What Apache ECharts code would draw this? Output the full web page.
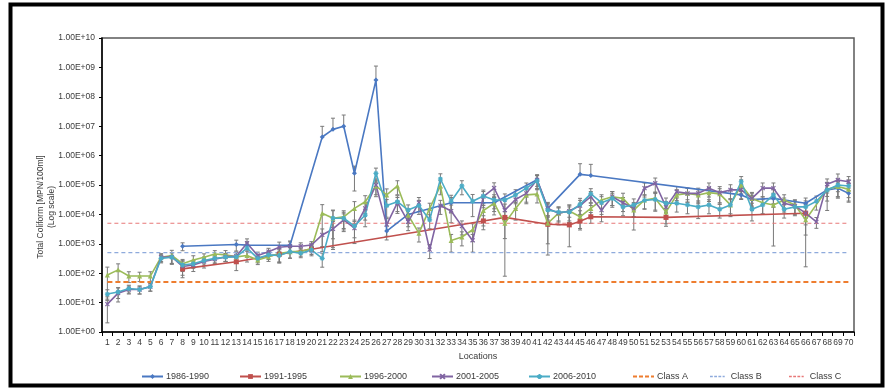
<!DOCTYPE html>
<html>
<head>
<meta charset="utf-8">
<script src="https://cdn.jsdelivr.net/npm/echarts@6/dist/echarts.min.js"></script>
<style>
  html, body { margin: 0; padding: 0; background: #fff; }
  #chart { width: 888px; height: 389px; }
</style>
</head>
<body>
<div id="chart"></div>
<script>
// Sampling locations along the river
const locations = [
  '1','2','3','4','5','6','7','8','9','10',
  '11','12','13','14','15','16','17','18','19','20',
  '21','22','23','24','25','26','27','28','29','30',
  '31','32','33','34','35','36','37','38','39','40',
  '41','42','43','44','45','46','47','48','49','50',
  '51','52','53','54','55','56','57','58','59','60',
  '61','62','63','64','65','66','67','68','69','70'
];

// Mean total coliform (MPN/100ml) per period; null = not sampled
const tc1986_1990 = [
  null,null,null,null,null,null,null,830,null,null,
  null,null,950,900,null,null,null,890,null,null,
  4.3e6,7.8e6,1.0e7,2.5e5,null,3.7e8,2700,null,10000,null,
  null,null,25000,null,null,null,25000,null,null,null,
  150000,16000,null,null,230000,210000,null,null,null,null,
  null,null,null,null,null,null,null,null,null,46000,
  32000,null,35000,null,null,24000,null,68000,78000,52000
];
const tc1991_1995 = [
  null,null,null,null,null,null,null,140,null,null,
  null,null,245,null,null,null,440,null,null,650,
  null,null,null,null,null,null,null,null,null,null,
  null,null,null,null,null,6000,null,7900,null,null,
  null,4600,null,4400,5900,8300,null,null,null,null,
  null,null,7900,null,null,null,null,null,null,null,
  null,null,null,null,null,11000,null,null,null,null
];
const tc1996_2000 = [
  87,130,80,80,80,350,400,210,280,350,
  450,420,360,400,280,360,470,540,540,710,
  11000,7400,8300,16000,27000,93000,46000,93000,9500,2300,
  16000,93000,1300,1700,3000,13500,24000,5000,16000,46000,
  49000,5000,11000,13000,8300,16000,31000,40000,35000,14000,
  31000,35000,12000,46000,52000,46000,55000,50000,21000,100000,
  35000,25000,21000,31000,21000,6600,null,71000,89000,71000
];
const tc2001_2005 = [
  8.9,21,28,28,35,350,360,170,190,250,
  300,360,380,1050,400,540,760,830,830,910,
  2000,3200,6500,3400,16000,100000,4500,25000,5600,25000,
  630,20000,13000,4000,1300,40000,79000,14000,32000,52000,
  150000,16000,11000,13000,20000,40000,14000,40000,25000,16000,
  78000,115000,18000,59000,52000,52000,78000,55000,68000,68000,
  35000,78000,78000,24000,19500,11000,5600,107000,148000,129000
];
const tc2006_2010 = [
  19.5,23,30,28,35,320,350,190,210,270,
  320,350,360,710,320,420,400,540,480,620,
  320,7400,7400,4000,9500,250000,20000,27000,14000,20000,
  6500,160000,28000,93000,28000,42000,31000,31000,46000,78000,
  138000,14000,12000,12000,22000,50000,25000,35000,18000,21000,
  30000,32000,24000,24000,21000,18000,21000,15000,21000,129000,
  15000,21000,46000,15000,18000,18000,28000,68000,100000,93000
];

// Relative standard deviation (SD / mean) of each mean, for the error bars
const rsd1986_1990 = [
  null,null,null,null,null,null,null,0.3,null,null,
  null,null,0.4,0.3,null,null,null,0.4,null,null,
  1.3,1.4,1.4,0.75,null,2.0,0.5,null,0.5,null,
  null,null,0.5,null,null,null,0.5,null,null,null,
  0.4,0.5,null,null,1.3,1.4,null,null,null,null,
  null,null,null,null,null,null,null,null,null,0.3,
  0.4,null,0.5,null,null,0.5,null,0.4,0.5,0.5
];
const rsd1991_1995 = [
  null,null,null,null,null,null,null,0.5,null,null,
  null,null,0.5,null,null,null,0.5,null,null,0.4,
  null,null,null,null,null,null,null,null,null,null,
  null,null,null,null,null,0.5,null,0.99,null,null,
  null,0.91,null,0.82,0.5,0.4,null,null,null,null,
  null,null,0.5,null,null,null,null,null,null,null,
  null,null,null,null,null,0.985,null,null,null,null
];
const rsd1996_2000 = [
  0.85,0.6,0.4,0.35,0.4,0.3,0.5,0.4,0.4,0.3,
  0.3,0.4,0.4,0.4,0.3,0.3,0.5,0.4,0.3,0.3,
  0.95,0.8,0.6,0.7,0.6,0.5,0.6,0.5,0.6,0.5,
  0.5,0.5,0.6,0.5,0.6,0.7,0.6,0.7,0.6,0.5,
  0.5,0.8,0.6,0.6,0.6,0.5,0.5,0.5,0.5,0.79,
  0.5,0.6,0.6,0.5,0.5,0.5,0.5,0.5,0.6,0.5,
  0.5,0.6,0.96,0.5,0.5,0.7,null,0.6,0.6,0.6
];
const rsd2001_2005 = [
  0.77,0.5,0.3,0.3,0.3,0.3,0.4,0.5,0.4,0.4,
  0.3,0.3,0.4,0.4,0.3,0.3,0.5,0.4,0.3,0.3,
  0.6,0.8,0.6,0.7,0.6,0.6,0.6,0.5,0.5,0.5,
  0.5,0.5,0.6,0.5,0.6,0.5,0.5,0.6,0.5,0.5,
  0.5,0.6,0.5,0.6,0.5,0.5,0.6,0.5,0.5,0.5,
  0.5,0.5,0.5,0.5,0.5,0.5,0.5,0.6,0.5,0.5,
  0.6,0.5,0.5,0.5,0.5,0.6,0.4,0.5,0.6,0.5
];
const rsd2006_2010 = [
  0.4,0.4,0.3,0.3,0.3,0.3,0.4,0.4,0.3,0.3,
  0.3,0.3,0.4,0.5,0.3,0.3,0.4,0.4,0.3,0.3,
  0.5,0.9,0.6,0.6,0.6,0.5,0.6,0.6,0.5,0.5,
  0.5,0.5,0.6,0.5,0.7,0.6,0.5,0.6,0.5,0.5,
  0.5,0.6,0.5,0.5,0.6,0.5,0.6,0.5,0.5,0.6,
  0.5,0.6,0.5,0.5,0.5,0.6,0.5,0.5,0.5,0.5,
  0.6,0.5,0.5,0.5,0.5,0.6,0.5,0.8,0.6,0.6
];

// Water quality class limits (MPN/100ml)
const classA = 50;
const classB = 500;
const classC = 5000;

const yTicks = [1, 10, 100, 1e3, 1e4, 1e5, 1e6, 1e7, 1e8, 1e9, 1e10];

const FONT = '"Liberation Sans Narrow", "Liberation Sans", Arial, sans-serif';
const TEXT = '#3a3a3a';

const periods = [
  { name: '1986-1990', values: tc1986_1990, rsd: rsd1986_1990, color: '#4a78c2', symbol: 'diamond', size: 5 },
  { name: '1991-1995', values: tc1991_1995, rsd: rsd1991_1995, color: '#c0504d', symbol: 'rect', size: 5 },
  { name: '1996-2000', values: tc1996_2000, rsd: rsd1996_2000, color: '#9bbb59', symbol: 'triangle', size: 5 },
  { name: '2001-2005', values: tc2001_2005, rsd: rsd2001_2005, color: '#8064a2', symbol: 'path://M0,0L10,10M10,0L0,10', size: 4, stroke: true },
  { name: '2006-2010', values: tc2006_2010, rsd: rsd2006_2010, color: '#4bacc6', symbol: 'path://M5,0L5,10M0,5L10,5M1.5,1.5L8.5,8.5M8.5,1.5L1.5,8.5', size: 5, stroke: true }
];

function errorBars(values, rsd) {
  const out = [];
  values.forEach((v, i) => {
    const r = rsd[i];
    if (v == null || r == null) return;
    const hi = v * (1 + r);
    const lo = r < 1 ? v * (1 - r) : v;
    out.push([i, lo, hi, r < 1 ? 1 : 0]);
  });
  return out;
}

function renderErrorBar(params, api) {
  const x = api.value(0);
  const top = api.coord([x, api.value(2)]);
  const bot = api.coord([x, api.value(1)]);
  const hw = 2;
  const style = { stroke: '#7a7a7a', lineWidth: 1 };
  const children = [
    { type: 'line', shape: { x1: top[0], y1: top[1], x2: bot[0], y2: bot[1] }, style },
    { type: 'line', shape: { x1: top[0] - hw, y1: top[1], x2: top[0] + hw, y2: top[1] }, style }
  ];
  if (api.value(3) === 1) {
    children.push({ type: 'line', shape: { x1: bot[0] - hw, y1: bot[1], x2: bot[0] + hw, y2: bot[1] }, style });
  }
  return { type: 'group', children };
}

const series = [];

periods.forEach(p => {
  series.push({
    name: p.name + ' SD',
    type: 'custom',
    renderItem: renderErrorBar,
    data: errorBars(p.values, p.rsd),
    encode: { x: 0, y: [1, 2] },
    silent: true,
    z: 1
  });
});

periods.forEach(p => {
  series.push({
    name: p.name,
    type: 'line',
    data: p.values,
    connectNulls: true,
    symbol: p.symbol,
    symbolSize: p.size,
    showAllSymbol: true,
    lineStyle: { color: p.color, width: 1.6 },
    itemStyle: p.stroke
      ? { color: p.color, borderColor: p.color, borderWidth: 1.2 }
      : { color: p.color, borderWidth: 0 },
    emphasis: { disabled: true },
    animation: false,
    z: 3
  });
});

const classes = [
  { name: 'Class A', limit: classA, color: '#ee7d2f', width: 2, dash: [5, 3] },
  { name: 'Class B', limit: classB, color: '#8eaadc', width: 1.2, dash: [4, 3] },
  { name: 'Class C', limit: classC, color: '#e87878', width: 1.2, dash: [4, 3] }
];
classes.forEach(c => {
  series.push({
    name: c.name,
    type: 'line',
    data: locations.map(() => c.limit),
    symbol: 'none',
    lineStyle: { color: c.color, width: c.width, type: c.dash },
    itemStyle: { color: c.color },
    emphasis: { disabled: true },
    animation: false,
    z: 2
  });
});

// Dashed icon used for the class-limit legend entries
const dashIcon = 'path://M0,0h4v2h-4zM6,0h4v2h-4zM12,0h4v2h-4zM18,0h3v2h-3z';

const legendLeft = [136, 234, 334, 426, 523, 628, 705, 784];
const legends = periods.map((p, i) => ({
  data: [p.name],
  left: legendLeft[i],
  top: 367,
  itemWidth: 21,
  itemHeight: 6,
  itemGap: 0,
  selectedMode: false,
  textStyle: { fontFamily: FONT, fontSize: 9, color: TEXT, padding: [0, 0, 0, -2] }
})).concat(classes.map((c, i) => ({
  data: [{ name: c.name, icon: dashIcon, itemStyle: { color: c.color } }],
  left: legendLeft[periods.length + i],
  top: 367,
  itemWidth: 21,
  itemHeight: c.width >= 2 ? 2 : 1.4,
  itemGap: 0,
  selectedMode: false,
  textStyle: { fontFamily: FONT, fontSize: 9, color: TEXT, padding: [0, 0, 0, -2] }
})));

const chart = echarts.init(document.getElementById('chart'), null, { renderer: 'canvas' });
chart.setOption({
  animation: false,
  backgroundColor: '#ffffff',
  grid: { left: 102, right: 34, top: 38, bottom: 57, show: true, borderColor: '#5a5a5a', borderWidth: 1.5, backgroundColor: 'transparent' },
  legend: legends,
  xAxis: {
    type: 'category',
    data: locations,
    boundaryGap: true,
    name: 'Locations',
    nameLocation: 'middle',
    nameGap: 20,
    nameTextStyle: { fontFamily: FONT, fontSize: 9, color: TEXT },
    axisLine: { lineStyle: { color: '#000', width: 1.5 } },
    axisTick: { show: true, length: 4, lineStyle: { color: '#000' }, interval: 0 },
    axisLabel: { interval: 0, fontFamily: FONT, fontSize: 8.5, color: TEXT, margin: 6 },
    splitLine: { show: false }
  },
  yAxis: {
    type: 'log',
    logBase: 10,
    min: yTicks[0],
    max: yTicks[yTicks.length - 1],
    interval: 1,
    axisLine: { show: true, lineStyle: { color: '#000', width: 1.5 } },
    axisTick: { show: true, length: 3, lineStyle: { color: '#000' } },
    axisLabel: {
      fontFamily: FONT, fontSize: 8.5, color: TEXT, margin: 7,
      formatter: v => {
        const e = Math.round(Math.log10(v));
        return '1.00E+' + String(e).padStart(2, '0');
      }
    },
    splitLine: { show: false }
  },
  graphic: [
    {
      type: 'rect',
      shape: { x: 10.5, y: 4.5, width: 872, height: 381 },
      style: { fill: 'none', stroke: '#000', lineWidth: 4 },
      z: 10
    },
    {
      type: 'text',
      x: 46,
      y: 207,
      rotation: Math.PI / 2,
      style: {
        text: 'Total Coliform [MPN/100ml]\n(Log scale)',
        fontFamily: FONT,
        fontSize: 8.5,
        fill: TEXT,
        align: 'center',
        verticalAlign: 'middle',
        lineHeight: 11
      }
    }
  ],
  series
});
</script>
</body>
</html>
